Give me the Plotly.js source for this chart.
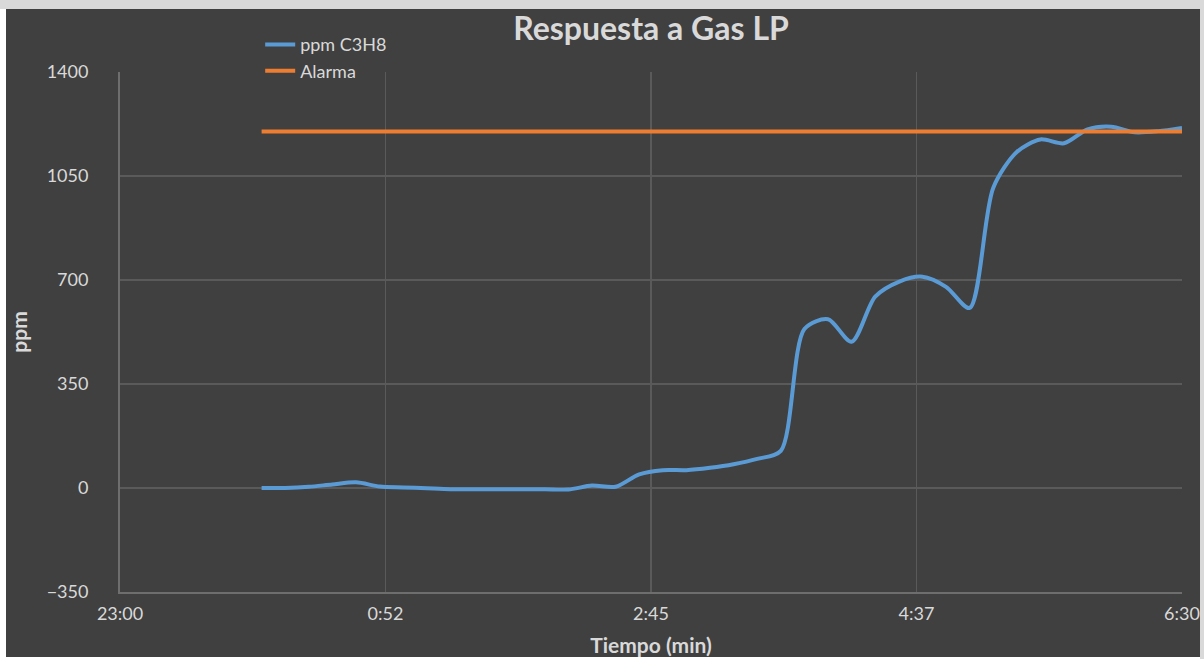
<!DOCTYPE html>
<html>
<head>
<meta charset="utf-8">
<script src="https://cdn.plot.ly/plotly-3.0.1.min.js"></script>
<style>
  html, body { margin: 0; padding: 0; background: #ffffff; width: 1204px; height: 659px; overflow: hidden; }
  #topstrip { position: absolute; left: 0; top: 0; width: 1204px; height: 9px; background: #d9d9d9; }
  #rightstrip { position: absolute; left: 1200px; top: 0; width: 4px; height: 659px; background: #d9d9d9; }
  #chart { position: absolute; left: 6px; top: 9px; width: 1194px; height: 648px; }
</style>
</head>
<body>
<div id="topstrip"></div>
<div id="rightstrip"></div>
<div id="chart"></div>
<script>
// Time in minutes after 0:00 (axis labels shown as h:mm as in the original)
var timeMin = [0,10,20,30,40,50,60,70,80,90,100,110,120,130,140,150,160,170,180,190,200,210,220,230,240,250,260,270,280,290,300,310,320,330,340,350,360,370,380,390];
var ppmC3H8 = [0,0,4,12,19,5,2,-1,-4,-4,-4,-4,-4,-5,8,4,46,60,60,68,80,98,125,535,568,492,644,694,711,677,606,1010,1131,1173,1160,1207,1216,1197,1201,1212];
var alarmaX = [0,390];
var alarmaY = [1200,1200];
var tickVals = [-60,52.5,165,277.5,390];
var tickText = ["23:00","0:52","2:45","4:37","6:30"];
var yTicks = [-350,0,350,700,1050,1400];

var txt = '#d9d9d9';
var fontFam = 'Lato, "Open Sans", sans-serif';

var traces = [
  {x: timeMin, y: ppmC3H8, name: 'ppm C3H8', type: 'scatter', mode: 'lines',
   line: {color: '#5b9bd5', width: 4, shape: 'spline', smoothing: 0.8}},
  {x: alarmaX, y: alarmaY, name: 'Alarma', type: 'scatter', mode: 'lines',
   line: {color: '#ed7d31', width: 4}}
];

var layout = {
  width: 1194, height: 648,
  paper_bgcolor: '#404040', plot_bgcolor: '#404040',
  margin: {l: 114, r: 18, t: 63, b: 65},
  font: {family: fontFam, color: txt, size: 18},
  title: {text: '<b>Respuesta a Gas LP</b>', x: 0.5, xref: 'paper', xanchor: 'center',
          y: 1 - 20/648, yref: 'container', yanchor: 'middle',
          font: {family: fontFam, size: 32, color: txt}},
  showlegend: true,
  legend: {x: 0.132, xanchor: 'left', y: 1.088, yanchor: 'top', orientation: 'v',
           bgcolor: 'rgba(0,0,0,0)', font: {family: fontFam, size: 18, color: txt},
           tracegroupgap: 0, itemwidth: 30},
  xaxis: {range: [-60, 390], tickmode: 'array', tickvals: tickVals, ticktext: tickText,
          showgrid: true, gridcolor: '#5a5a5a', gridwidth: 1.5, zeroline: false,
          showline: true, linecolor: '#6e6e6e', linewidth: 2, ticks: '',
          ticklabelstandoff: 4,
          tickfont: {family: fontFam, size: 18, color: txt},
          title: {text: '<b>Tiempo (min)</b>', standoff: 20, font: {family: fontFam, size: 21, color: txt}},
          automargin: false, fixedrange: true},
  yaxis: {range: [-350, 1400], tickmode: 'array', tickvals: yTicks,
          showgrid: true, gridcolor: '#5a5a5a', gridwidth: 1.5, zeroline: false,
          showline: true, linecolor: '#6e6e6e', linewidth: 2, ticks: '',
          ticklabelstandoff: 26,
          tickfont: {family: fontFam, size: 18, color: txt},
          title: {text: '<b>ppm</b>', standoff: 30, font: {family: fontFam, size: 21, color: txt}},
          automargin: false, fixedrange: true}
};

Plotly.newPlot('chart', traces, layout, {displayModeBar: false, staticPlot: true});
</script>
</body>
</html>
